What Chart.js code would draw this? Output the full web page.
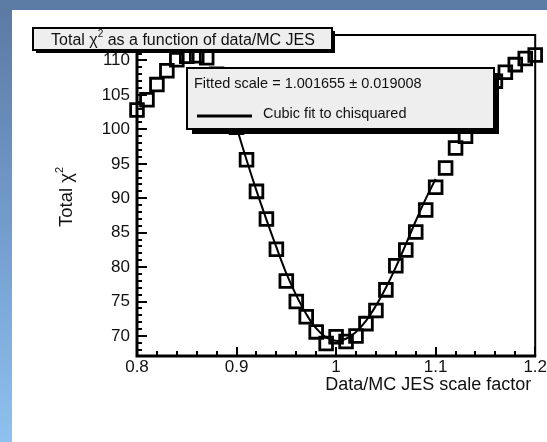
<!DOCTYPE html>
<html>
<head>
<meta charset="utf-8">
<script src="https://cdn.jsdelivr.net/npm/chart.js@4.4.1/dist/chart.umd.min.js"></script>
<style>
  html, body { margin: 0; padding: 0; background: #fff; }
  #page { position: relative; width: 547px; height: 442px; overflow: hidden;
          background: linear-gradient(to bottom, #5b79a2 0%, #759fd0 55%, #8ec1ef 100%); }
  #band { position: absolute; left: 0; top: 0; width: 547px; height: 10px; background: #5d7ca5; }
  #sheet { position: absolute; left: 12px; top: 10px; right: 0; bottom: 0; background: #fff; }
  canvas { position: absolute; left: 0; top: 0; }
</style>
</head>
<body>
<div id="page">
  <div id="band"></div>
  <div id="sheet"></div>
  <canvas id="chart" width="547" height="442"></canvas>
</div>
<script>
// JES scale factor scan and the total chi-squared at each point
const scaleFactors = [0.80, 0.81, 0.82, 0.83, 0.84, 0.85, 0.86, 0.87, 0.88, 0.89,
                      0.90, 0.91, 0.92, 0.93, 0.94, 0.95, 0.96, 0.97, 0.98, 0.99,
                      1.00, 1.01, 1.02, 1.03, 1.04, 1.05, 1.06, 1.07, 1.08, 1.09,
                      1.10, 1.11, 1.12, 1.13, 1.14, 1.15, 1.16, 1.17, 1.18, 1.19, 1.20];
const chi2Values   = [102.8, 104.3, 106.5, 108.5, 110.1, 110.6, 110.7, 110.4, 108.0, 104.2,
                      100.3, 95.6, 91.0, 87.0, 82.6, 78.0, 75.0, 72.8, 70.6, 68.9,
                      69.9, 69.2, 70.0, 71.8, 73.7, 76.7, 80.2, 82.5, 85.1, 88.3,
                      91.6, 94.4, 97.3, 99.0, 101.8, 104.3, 107.0, 108.3, 109.4, 110.3, 110.8];

// cubic fit curve sampled over the fitted range
const fitScale = [0.90, 0.91, 0.92, 0.93, 0.94, 0.95, 0.96, 0.97, 0.98, 0.99, 1.00,
                  1.01, 1.02, 1.03, 1.04, 1.05, 1.06, 1.07, 1.08, 1.09, 1.10];
const fitChi2  = [100.3, 95.6, 91.1, 86.9, 82.9, 79.1, 75.9, 73.2, 71.1, 69.8, 69.3,
                  69.6, 70.6, 72.2, 74.4, 77.0, 80.0, 83.3, 86.7, 89.9, 92.8];

// axis ticks
const xTickValues = [0.8, 0.9, 1.0, 1.1, 1.2];
const xTickLabels = ['0.8', '0.9', '1', '1.1', '1.2'];
const yTickValues = [70, 75, 80, 85, 90, 95, 100, 105, 110];
const yTickLabels = ['70', '75', '80', '85', '90', '95', '100', '105', '110'];

const titleText  = ['Total ', 'χ', '2', ' as a function of data/MC JES'];
const yTitleText = ['Total ', 'χ', '2', ''];
const xTitleText = 'Data/MC JES scale factor';
const fitLabel   = 'Fitted scale = 1.001655 ± 0.019008';
const fitName    = 'Cubic fit to chisquared';

const FONT = '"Liberation Sans", Arial, Helvetica, sans-serif';

// writes "text χ² text" with a raised small 2, centred on cx
function chiText(ctx, parts, cx, y, size) {
  const big = size + 'px ' + FONT, small = Math.round(size * 0.62) + 'px ' + FONT;
  ctx.font = big;
  const w0 = ctx.measureText(parts[0]).width, w1 = ctx.measureText(parts[1]).width;
  const w3 = ctx.measureText(parts[3]).width;
  ctx.font = small;
  const w2 = ctx.measureText(parts[2]).width;
  let x = cx - (w0 + w1 + w2 + w3) / 2;
  ctx.textAlign = 'left';
  ctx.textBaseline = 'alphabetic';
  ctx.font = big;
  ctx.fillText(parts[0], x, y); x += w0;
  ctx.fillText(parts[1], x, y); x += w1;
  ctx.font = small;
  ctx.fillText(parts[2], x, y - size * 0.5); x += w2;
  ctx.font = big;
  ctx.fillText(parts[3], x, y);
}

function shadowBox(ctx, x0, y0, x1, y1, off) {
  ctx.fillStyle = '#000';
  ctx.fillRect(x0 + off, y0 + off, x1 - x0, y1 - y0);
  ctx.fillStyle = '#eeeeee';
  ctx.fillRect(x0, y0, x1 - x0, y1 - y0);
  ctx.lineWidth = 2;
  ctx.strokeStyle = '#000';
  ctx.strokeRect(x0, y0, x1 - x0, y1 - y0);
}

// frame, inward ticks, title box, fit legend and axis titles
const framePlugin = {
  id: 'frame',
  afterDraw(chart) {
    const { ctx, chartArea: a, scales: { x, y } } = chart;
    ctx.save();
    ctx.strokeStyle = '#000';
    ctx.lineCap = 'butt';

    // ticks along the bottom axis
    ctx.lineWidth = 2;
    for (let i = 0; i <= 20; i++) {
      const v = x.min + i * (x.max - x.min) / 20;
      const px = Math.round(x.getPixelForValue(v));
      const len = i % 5 === 0 ? 9 : 5;
      ctx.beginPath(); ctx.moveTo(px, a.bottom); ctx.lineTo(px, a.bottom - len); ctx.stroke();
    }
    // ticks along the left axis
    for (let v = Math.ceil(y.min); v <= Math.floor(y.max); v++) {
      const py = Math.round(y.getPixelForValue(v));
      const len = v % 5 === 0 ? 10 : 5;
      ctx.beginPath(); ctx.moveTo(a.left, py); ctx.lineTo(a.left + len, py); ctx.stroke();
    }

    // frame top and right
    ctx.lineWidth = 2;
    ctx.beginPath();
    ctx.moveTo(a.left, a.top); ctx.lineTo(a.right, a.top); ctx.lineTo(a.right, a.bottom);
    ctx.stroke();
    // axes
    ctx.lineWidth = 3;
    ctx.beginPath();
    ctx.moveTo(a.left, a.top); ctx.lineTo(a.left, a.bottom + 1.5);
    ctx.moveTo(a.left - 1.5, a.bottom); ctx.lineTo(a.right + 1, a.bottom);
    ctx.stroke();

    // title box
    shadowBox(ctx, 33, 28, 332, 50, 3);
    ctx.fillStyle = '#111';
    chiText(ctx, titleText, 183, 45, 16);

    // fit legend
    shadowBox(ctx, 187, 68, 494, 129, 5);
    ctx.fillStyle = '#111';
    ctx.font = '14.5px ' + FONT;
    ctx.textAlign = 'left';
    ctx.textBaseline = 'middle';
    ctx.fillText(fitLabel, 194, 84);
    ctx.fillText(fitName, 263, 114);
    ctx.lineWidth = 3;
    ctx.beginPath(); ctx.moveTo(197, 116); ctx.lineTo(252, 116); ctx.stroke();

    // axis titles
    ctx.font = '18px ' + FONT;
    ctx.textAlign = 'right';
    ctx.textBaseline = 'alphabetic';
    ctx.fillText(xTitleText, a.right - 4, 390);

    ctx.translate(72, 197);
    ctx.rotate(-Math.PI / 2);
    chiText(ctx, yTitleText, 0, 0, 18.5);
    ctx.restore();
  }
};

new Chart(document.getElementById('chart'), {
  type: 'scatter',
  data: {
    datasets: [
      {
        label: 'Total chi2',
        data: scaleFactors.map((s, i) => ({ x: s, y: chi2Values[i] })),
        pointStyle: 'rect',
        pointRadius: 9,
        pointBorderWidth: 2.8,
        borderColor: '#000',
        backgroundColor: 'rgba(0,0,0,0)',
        clip: false,
        order: 2
      },
      {
        label: fitName,
        data: fitScale.map((s, i) => ({ x: s, y: fitChi2[i] })),
        showLine: true,
        borderColor: '#000',
        borderWidth: 2,
        pointRadius: 0,
        tension: 0.4,
        order: 1
      }
    ]
  },
  options: {
    responsive: false,
    animation: false,
    devicePixelRatio: 1,
    layout: { padding: { left: 0, top: 35, right: 10, bottom: 0 } },
    plugins: { legend: { display: false }, tooltip: { enabled: false } },
    scales: {
      x: {
        type: 'linear', min: 0.8, max: 1.2,
        grid: { display: false, drawTicks: false },
        border: { display: false },
        afterBuildTicks: s => { s.ticks = xTickValues.map(v => ({ value: v })); },
        afterFit: s => { s.height = 86; s.paddingLeft = 0; s.paddingRight = 0; },
        ticks: {
          autoSkip: false, maxRotation: 0, padding: 1, color: '#111',
          font: { family: FONT, size: 17 },
          callback: (v, i) => xTickLabels[i]
        }
      },
      y: {
        type: 'linear', min: 67.1, max: 113.7,
        grid: { display: false, drawTicks: false },
        border: { display: false },
        afterBuildTicks: s => { s.ticks = yTickValues.map(v => ({ value: v })); },
        afterFit: s => { s.width = 137; s.paddingTop = 0; s.paddingBottom = 0; },
        ticks: {
          autoSkip: false, padding: 7, color: '#111',
          font: { family: FONT, size: 17 },
          callback: (v, i) => yTickLabels[i]
        }
      }
    }
  },
  plugins: [framePlugin]
});
</script>
</body>
</html>
